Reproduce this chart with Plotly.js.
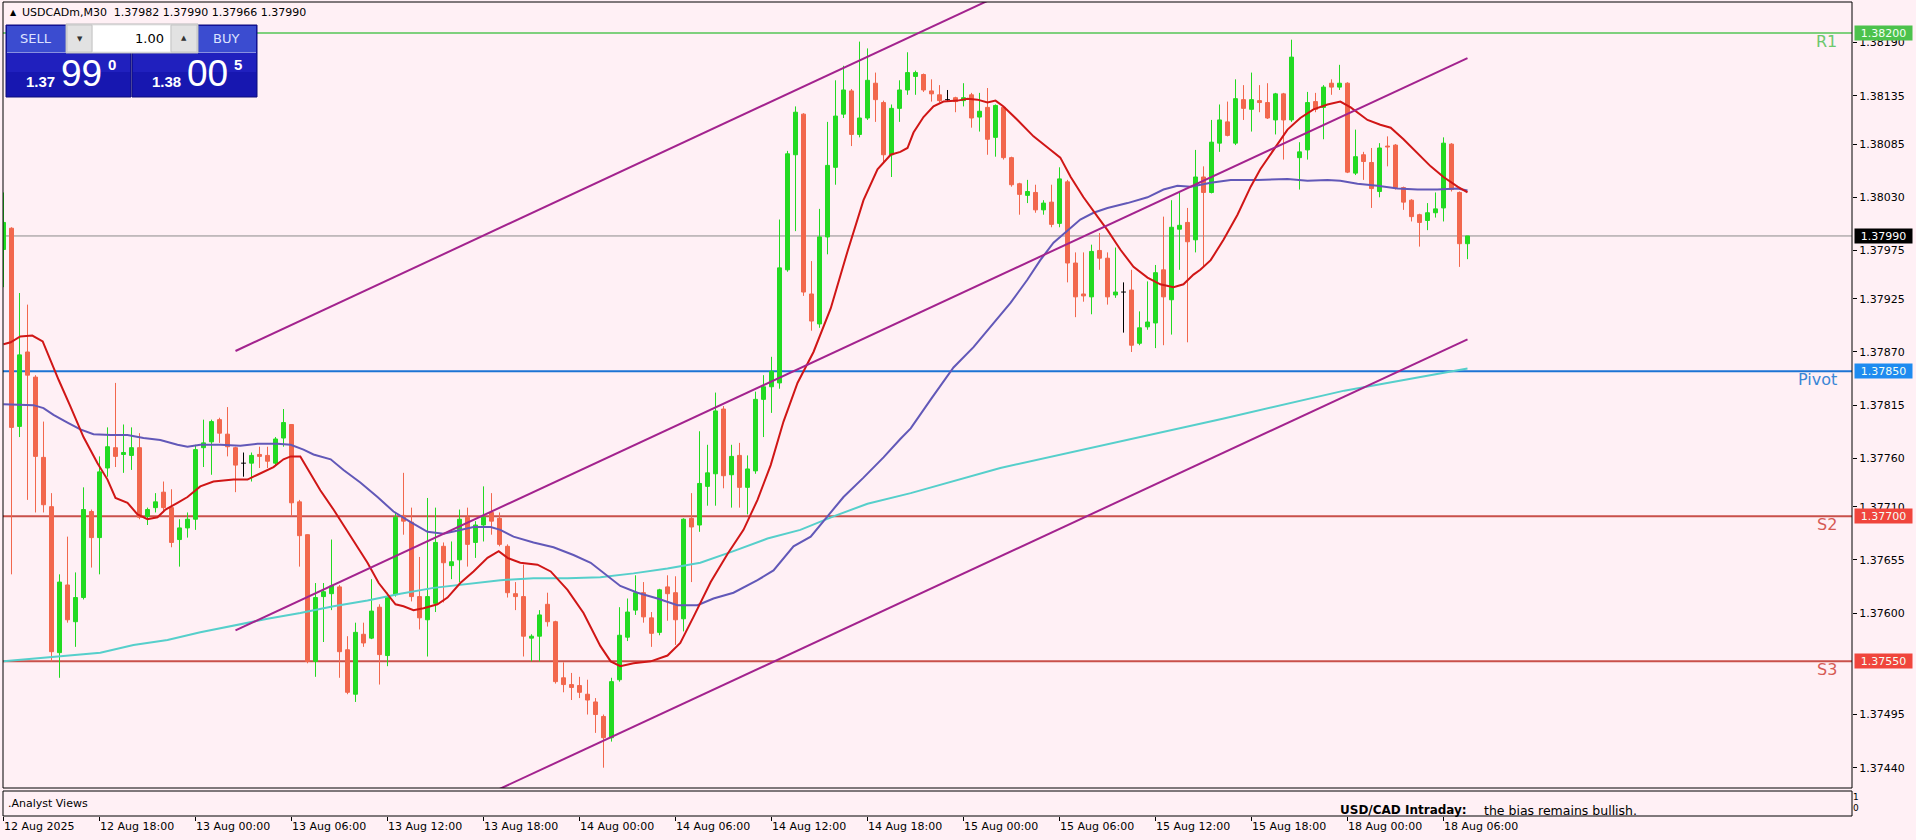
<!DOCTYPE html>
<html><head><meta charset="utf-8">
<script src="https://cdn.plot.ly/plotly-3.0.1.min.js"></script>
<style>html,body{margin:0;padding:0;background:#FFF0F5;}#chart{width:1916px;height:840px;}</style>
</head><body><div id="chart"></div>
<script>
// ---------- DATA ----------
const symbolName = 'USDCADm,M30';
const openP = [1.37976,1.37998,1.37793,1.37870,1.37844,1.37761,1.37710,1.37559,1.37629,1.37591,
1.37616,1.37705,1.37678,1.37750,1.37771,1.37764,1.37763,1.37771,1.37700,1.37709,
1.37725,1.37709,1.37676,1.37688,1.37697,1.37771,1.37777,1.37800,1.37785,1.37771,
1.37755,1.37755,1.37764,1.37763,1.37755,1.37781,1.37795,1.37715,1.37681,1.37550,
1.37617,1.37620,1.37627,1.37562,1.37516,1.37578,1.37574,1.37606,1.37556,1.37619,
1.37701,1.37694,1.37617,1.37593,1.37610,1.37669,1.37649,1.37655,1.37699,1.37673,
1.37691,1.37704,1.37698,1.37669,1.37620,1.37617,1.37574,1.37576,1.37609,1.37591,
1.37533,1.37526,1.37525,1.37516,1.37508,1.37493,1.37471,1.37531,1.37575,1.37603,
1.37621,1.37595,1.37580,1.37627,1.37621,1.37594,1.37698,1.37691,1.37731,1.37744,
1.37811,1.37743,1.37763,1.37730,1.37747,1.37821,1.37834,1.37838,1.37955,1.38074,
1.38116,1.37930,1.37899,1.37989,1.38061,1.38116,1.38140,1.38095,1.38112,1.38148,
1.38128,1.38074,1.38122,1.38141,1.38155,1.38157,1.38140,1.38136,1.38131,1.38133,
1.38130,1.38136,1.38113,1.38123,1.38092,1.38123,1.38071,1.38044,1.38032,1.38035,
1.38017,1.38025,1.38003,1.38046,1.37962,1.37930,1.37927,1.37975,1.37967,1.37929,
1.37932,1.37934,1.37879,1.37896,1.37900,1.37955,1.37924,1.37997,1.38004,1.37986,
1.38051,1.38035,1.38086,1.38108,1.38086,1.38131,1.38121,1.38130,1.38128,1.38110,
1.38137,1.38110,1.38071,1.38079,1.38129,1.38123,1.38148,1.38144,1.38148,1.38055,
1.38074,1.38066,1.38036,1.38083,1.38084,1.38040,1.38027,1.38012,1.38006,1.38014,
1.38019,1.38085,1.38035,1.37982];
const highP = [1.38035,1.37999,1.37931,1.37919,1.37846,1.37798,1.37724,1.37640,1.37679,1.37642,
1.37730,1.37707,1.37762,1.37792,1.37838,1.37795,1.37792,1.37786,1.37709,1.37724,
1.37736,1.37728,1.37697,1.37704,1.37774,1.37800,1.37800,1.37802,1.37813,1.37772,
1.37766,1.37766,1.37772,1.37772,1.37782,1.37811,1.37795,1.37717,1.37681,1.37631,
1.37631,1.37676,1.37629,1.37576,1.37590,1.37590,1.37635,1.37609,1.37621,1.37704,
1.37745,1.37709,1.37658,1.37719,1.37709,1.37673,1.37674,1.37707,1.37709,1.37695,
1.37731,1.37724,1.37704,1.37671,1.37632,1.37650,1.37578,1.37603,1.37621,1.37592,
1.37549,1.37538,1.37534,1.37531,1.37512,1.37495,1.37533,1.37606,1.37615,1.37639,
1.37632,1.37601,1.37625,1.37639,1.37638,1.37698,1.37724,1.37788,1.37774,1.37828,
1.37814,1.37774,1.37776,1.37763,1.37829,1.37846,1.37865,1.38007,1.38078,1.38124,
1.38117,1.37964,1.38018,1.38108,1.38151,1.38166,1.38142,1.38191,1.38184,1.38159,
1.38130,1.38126,1.38151,1.38180,1.38161,1.38158,1.38152,1.38146,1.38141,1.38134,
1.38148,1.38138,1.38138,1.38143,1.38126,1.38124,1.38072,1.38045,1.38048,1.38043,
1.38027,1.38043,1.38061,1.38048,1.37973,1.37973,1.37981,1.37993,1.37973,1.37978,
1.37942,1.37955,1.37912,1.37943,1.37960,1.38010,1.38027,1.38035,1.38019,1.38079,
1.38062,1.38110,1.38126,1.38129,1.38152,1.38146,1.38159,1.38146,1.38148,1.38138,
1.38138,1.38193,1.38087,1.38139,1.38138,1.38146,1.38152,1.38167,1.38149,1.38100,
1.38077,1.38081,1.38086,1.38093,1.38085,1.38041,1.38028,1.38013,1.38024,1.38035,
1.38092,1.38086,1.38036,1.37990];
const lowP = [1.37937,1.37640,1.37782,1.37717,1.37704,1.37704,1.37550,1.37533,1.37590,1.37565,
1.37614,1.37647,1.37640,1.37741,1.37751,1.37745,1.37748,1.37697,1.37691,1.37704,
1.37704,1.37668,1.37648,1.37678,1.37686,1.37751,1.37743,1.37776,1.37762,1.37725,
1.37741,1.37736,1.37750,1.37750,1.37753,1.37772,1.37700,1.37648,1.37548,1.37534,
1.37570,1.37603,1.37533,1.37516,1.37508,1.37565,1.37573,1.37526,1.37545,1.37617,
1.37681,1.37612,1.37583,1.37555,1.37601,1.37611,1.37635,1.37632,1.37648,1.37657,
1.37674,1.37681,1.37669,1.37616,1.37603,1.37555,1.37550,1.37550,1.37586,1.37527,
1.37518,1.37510,1.37512,1.37495,1.37476,1.37440,1.37467,1.37529,1.37571,1.37598,
1.37590,1.37565,1.37577,1.37592,1.37567,1.37581,1.37632,1.37684,1.37711,1.37711,
1.37729,1.37709,1.37709,1.37702,1.37744,1.37782,1.37807,1.37832,1.37953,1.37995,
1.37928,1.37892,1.37895,1.37971,1.38043,1.38112,1.38083,1.38092,1.38110,1.38108,
1.38065,1.38051,1.38108,1.38136,1.38136,1.38139,1.38129,1.38128,1.38129,1.38118,
1.38124,1.38102,1.38098,1.38074,1.38072,1.38069,1.38041,1.38012,1.38024,1.38014,
1.38012,1.37999,1.37999,1.37942,1.37906,1.37922,1.37909,1.37955,1.37919,1.37926,
1.37890,1.37870,1.37877,1.37893,1.37874,1.37877,1.37888,1.37955,1.37880,1.37973,
1.37958,1.38034,1.38077,1.38093,1.38084,1.38110,1.38098,1.38118,1.38111,1.38095,
1.38069,1.38108,1.38038,1.38069,1.38118,1.38090,1.38136,1.38141,1.38055,1.38053,
1.38048,1.38019,1.38030,1.38062,1.38038,1.38017,1.38005,1.37979,1.37996,1.38009,
1.38005,1.38036,1.37958,1.37966];
const closeP = [1.38004,1.37792,1.37867,1.37846,1.37762,1.37712,1.37560,1.37632,1.37593,1.37616,
1.37707,1.37678,1.37746,1.37772,1.37762,1.37766,1.37771,1.37699,1.37707,1.37715,
1.37709,1.37673,1.37688,1.37697,1.37769,1.37776,1.37798,1.37786,1.37772,1.37753,
1.37755,1.37763,1.37762,1.37757,1.37780,1.37797,1.37714,1.37680,1.37550,1.37616,
1.37622,1.37628,1.37560,1.37518,1.37580,1.37569,1.37602,1.37557,1.37617,1.37699,
1.37695,1.37617,1.37595,1.37617,1.37673,1.37652,1.37653,1.37697,1.37671,1.37691,
1.37699,1.37695,1.37671,1.37621,1.37617,1.37576,1.37576,1.37598,1.37591,1.37529,
1.37526,1.37523,1.37518,1.37510,1.37495,1.37471,1.37529,1.37577,1.37601,1.37621,
1.37596,1.37579,1.37624,1.37620,1.37593,1.37697,1.37689,1.37734,1.37745,1.37809,
1.37742,1.37762,1.37730,1.37749,1.37821,1.37834,1.37850,1.37957,1.38075,1.38118,
1.37932,1.37902,1.37989,1.38063,1.38114,1.38141,1.38095,1.38112,1.38151,1.38131,
1.38074,1.38122,1.38141,1.38159,1.38159,1.38141,1.38137,1.38130,1.38131,1.38129,
1.38133,1.38112,1.38119,1.38090,1.38125,1.38071,1.38043,1.38033,1.38036,1.38017,
1.38024,1.38002,1.38049,1.37962,1.37927,1.37928,1.37974,1.37967,1.37927,1.37932,
1.37932,1.37877,1.37895,1.37901,1.37952,1.37927,1.37999,1.38001,1.37984,1.38051,
1.38035,1.38087,1.38110,1.38094,1.38132,1.38122,1.38131,1.38128,1.38112,1.38137,
1.38110,1.38175,1.38077,1.38128,1.38121,1.38144,1.38144,1.38148,1.38056,1.38072,
1.38067,1.38039,1.38081,1.38082,1.38040,1.38025,1.38010,1.38004,1.38014,1.38018,
1.38086,1.38038,1.37982,1.37990];

const tickBars = [0,12,24,36,48,60,72,84,96,108,120,132,144,156,168,180];
const tickLabels = ['12 Aug 2025','12 Aug 18:00','13 Aug 00:00','13 Aug 06:00','13 Aug 12:00','13 Aug 18:00',
 '14 Aug 00:00','14 Aug 06:00','14 Aug 12:00','14 Aug 18:00','15 Aug 00:00','15 Aug 06:00','15 Aug 12:00',
 '15 Aug 18:00','18 Aug 00:00','18 Aug 06:00'];
const priceTicks = [1.38190,1.38135,1.38085,1.38030,1.37975,1.37925,1.37870,1.37815,1.37760,1.37710,1.37655,1.37600,1.37495,1.37440];

// fast MA (red)
const maFastBar = [0,0.9,2.1,3.6,4.9,5.9,6.9,8.4,10,11.75,13,14,15.5,16.75,18,19.25,20.25,21.75,23,24.6,26.25,28.75,30.5,31.75,33.75,35,35.9,37.1,38.4,39.6,41.25,43.4,45.5,46.9,48,49,50,51.25,52.5,54.25,55.5,57.1,58.75,60.5,61.9,63,64.6,66.75,68.4,70.5,72.5,74.6,75.9,77.1,78.75,80.9,83,84.6,86.25,88.4,90.5,92.5,94.25,95.9,97.5,99.25,101.25,103.4,105.5,107.5,109.25,110.9,112.1,113,113.75,115,116.25,117.5,119.25,120.5,121.75,123,124,125,126.75,128.75,130.9,132.1,133.4,135,136.75,138,139.6,141.25,143,144.6,146.25,147.5,148.75,149.6,150.9,152.5,154.25,155.9,157.1,158.75,160.5,162.1,163.75,165.5,167.1,168.4,170.5,172.1,173.4,175,176.75,178.4,180,181.75,183];
const maFastVal = [1.37878,1.37880,1.37886,1.37887,1.37881,1.37860,1.37841,1.37813,1.37782,1.37755,1.37738,1.37719,1.37714,1.37702,1.37697,1.37699,1.37707,1.37714,1.37720,1.37731,1.37736,1.37738,1.37738,1.37743,1.37751,1.37759,1.37762,1.37762,1.37743,1.37727,1.37707,1.37679,1.37652,1.37631,1.37619,1.37609,1.37607,1.37603,1.37605,1.37609,1.37616,1.37631,1.37643,1.37657,1.37664,1.37657,1.37652,1.37650,1.37643,1.37624,1.37600,1.37566,1.37550,1.37545,1.37548,1.37550,1.37556,1.37569,1.37596,1.37632,1.37661,1.37686,1.37717,1.37753,1.37798,1.37838,1.37870,1.37915,1.37974,1.38027,1.38059,1.38074,1.38077,1.38081,1.38097,1.38113,1.38124,1.38129,1.38130,1.38132,1.38131,1.38128,1.38130,1.38124,1.38110,1.38093,1.38079,1.38071,1.38051,1.38030,1.38010,1.37996,1.37976,1.37958,1.37947,1.37940,1.37937,1.37940,1.37950,1.37955,1.37965,1.37986,1.38012,1.38041,1.38059,1.38079,1.38100,1.38112,1.38121,1.38126,1.38129,1.38123,1.38110,1.38105,1.38102,1.38090,1.38076,1.38062,1.38051,1.38041,1.38035];
// medium MA (slate blue)
const maMidBar = [0,3.75,5,6.25,8,9.6,11.25,13.4,15.5,17.5,19.6,21.75,23,24.6,27.1,29.6,31.75,34.25,35.9,37.5,38.75,40.9,42.5,44.6,46.75,48.75,50.9,53,55,57.1,58.75,60.9,62.1,63.75,66.25,68.75,71.25,73.4,75,77.1,79.25,81.75,84.25,86.75,88.75,91.25,94.25,96.25,98.75,100.9,103,105,107.5,110,112.1,113.4,116,118.75,121.25,123.75,125.9,128,129.6,131.25,133,134.6,136.25,138,140.5,143,145,146.75,148.4,150.9,153.4,156.75,160.5,163,165.5,167.1,169.25,171.75,174.25,176.75,179.25,181.75,183];
const maMidVal = [1.37816,1.37815,1.37812,1.37805,1.37797,1.37790,1.37785,1.37784,1.37784,1.37781,1.37779,1.37774,1.37772,1.37774,1.37774,1.37773,1.37775,1.37775,1.37774,1.37769,1.37764,1.37759,1.37748,1.37735,1.37720,1.37705,1.37694,1.37684,1.37682,1.37686,1.37689,1.37689,1.37686,1.37679,1.37673,1.37668,1.37660,1.37652,1.37642,1.37628,1.37621,1.37615,1.37608,1.37608,1.37615,1.37621,1.37634,1.37644,1.37669,1.37679,1.37700,1.37720,1.37740,1.37761,1.37780,1.37791,1.37822,1.37854,1.37875,1.37900,1.37921,1.37945,1.37965,1.37983,1.37996,1.38007,1.38014,1.38019,1.38024,1.38030,1.38038,1.38042,1.38041,1.38045,1.38048,1.38048,1.38049,1.38047,1.38048,1.38047,1.38044,1.38042,1.38039,1.38038,1.38038,1.38039,1.38037];
// slow MA (turquoise)
const maSlowBar = [0,3.75,8,12.1,16.25,20.5,24.6,28.75,33,37.1,41.25,45.5,49.6,53.75,58,62.1,66.25,70.5,74.6,78.75,83,87.1,91.25,95.5,99.6,103.75,108,113.4,124.6,137.1,152.4,167.6,183];
const maSlowVal = [1.37550,1.37553,1.37556,1.37559,1.37567,1.37572,1.37580,1.37587,1.37594,1.37600,1.37607,1.37613,1.37620,1.37626,1.37630,1.37634,1.37636,1.37636,1.37637,1.37641,1.37646,1.37652,1.37664,1.37677,1.37686,1.37700,1.37713,1.37724,1.37750,1.37773,1.37801,1.37830,1.37853];

// channel trend lines (bar index, price)
const chanUpperBar = [29,124], chanUpperVal = [1.37871,1.38237];
const chanMidBar = [29,183],   chanMidVal = [1.37582,1.38174];
const chanLowBar = [62,183],   chanLowVal = [1.37418,1.37883];

// horizontal levels
const levelNames = ['R1','Pivot','S2','S3'];
const levelVals = [1.38200,1.37850,1.37700,1.37550];
const levelLine = ['#55C655','#1C74D4','#C9504A','#C9504A'];
const levelBox = ['#4CC24C','#1E8BF0','#F0453C','#F0453C'];
const levelText = ['#6CC86C','#3A86D6','#D65A55','#D65A55'];
const bidPrice = 1.37990;
const askPrice = 1.38005;
const analystHead = 'USD/CAD Intraday:';
const analystBody = 'the bias remains bullish.';

// ---------- GEOMETRY ----------
const W=1916,H=840, PL=3, PR=1852, PT=2, PB=816, MAINB=788, SUBT=791;
const plotW = PR-PL, plotH = PB-PT;
const px = x => (x-PL)/plotW;
const py = y => (PB-y)/plotH;
const mainDom0 = (PB-MAINB)/plotH;
const subDom1 = (PB-SUBT)/plotH;
const yTop = 1.38232, yBot = 1.37419;
const GREEN='#22DA22', RED='#F2674D';
const FONT='DejaVu Sans';

// ---------- TRACES ----------
const traces = [];
const upX=[],upB=[],upH=[],dnX=[],dnB=[],dnH=[];
const upWx=[],upWy=[],dnWx=[],dnWy=[],djX=[],djY=[];
for (let i=0;i<openP.length;i++){
  const o=openP[i],c=closeP[i],h=highP[i],l=lowP[i];
  if (c>o){upX.push(i);upB.push(o);upH.push(c-o);upWx.push(i,i,null);upWy.push(l,h,null);}
  else if (c<o){dnX.push(i);dnB.push(c);dnH.push(o-c);dnWx.push(i,i,null);dnWy.push(l,h,null);}
  else {djX.push(i,i,null,i-0.3,i+0.3,null);djY.push(l,h,null,o,o,null);}
}
const line = (x,y,color,width) => ({type:'scatter',mode:'lines',x:x,y:y,line:{color:color,width:width},hoverinfo:'skip',xaxis:'x',yaxis:'y',connectgaps:false,cliponaxis:true});
traces.push(line(upWx,upWy,GREEN,1));
traces.push(line(dnWx,dnWy,RED,1));
traces.push(line(djX,djY,'#000000',1));
traces.push({type:'bar',x:upX,y:upH,base:upB,width:0.5,marker:{color:GREEN,line:{color:GREEN,width:1}},hoverinfo:'skip',xaxis:'x',yaxis:'y'});
traces.push({type:'bar',x:dnX,y:dnH,base:dnB,width:0.5,marker:{color:RED,line:{color:RED,width:1}},hoverinfo:'skip',xaxis:'x',yaxis:'y'});
traces.push(line(maSlowBar,maSlowVal,'#56CFCB',2));
traces.push(line(maMidBar,maMidVal,'#6258B8',2));
traces.push(line(maFastBar,maFastVal,'#D01616',2));
traces.push(line(chanUpperBar,chanUpperVal,'#A3238E',2));
traces.push(line(chanMidBar,chanMidVal,'#A3238E',2));
traces.push(line(chanLowBar,chanLowVal,'#A3238E',2));
traces.push({type:'scatter',mode:'lines',x:[0],y:[0.5],line:{width:0},hoverinfo:'skip',xaxis:'x',yaxis:'y2',showlegend:false,opacity:0});

// ---------- SHAPES ----------
const shapes = [];
levelVals.forEach((v,i)=>shapes.push({type:'line',xref:'paper',yref:'y',x0:0,x1:1,y0:v,y1:v,line:{color:levelLine[i],width:i===0?1.5:2},layer:'below'}));
shapes.push({type:'line',xref:'paper',yref:'y',x0:0,x1:1,y0:bidPrice,y1:bidPrice,line:{color:'#8C8C8C',width:1},layer:'below'});
shapes.push({type:'rect',xref:'paper',yref:'paper',x0:0,x1:1,y0:mainDom0,y1:1,line:{color:'#000',width:1},layer:'above'});
shapes.push({type:'rect',xref:'paper',yref:'paper',x0:0,x1:1,y0:0,y1:subDom1,line:{color:'#000',width:1},layer:'above'});
const rectPx = (x0,y0,x1,y1,fill,lineColor,lw) => ({type:'rect',xref:'paper',yref:'paper',x0:px(x0),x1:px(x1),y0:py(y1),y1:py(y0),fillcolor:fill,line:{color:lineColor||fill,width:lw===undefined?0:lw},layer:'above'});
shapes.push(rectPx(6,25,131,97,'#1717B0','#0C0C7A',1));
shapes.push(rectPx(132,25,257,97,'#1717B0','#0C0C7A',1));
shapes.push(rectPx(7,26,130,52,'#3B4CD0'));
shapes.push(rectPx(133,26,256,52,'#3B4CD0'));
shapes.push(rectPx(7,52,130,53,'#8890E0'));
shapes.push(rectPx(133,52,256,53,'#8890E0'));
shapes.push(rectPx(7,53,130,72,'#2020BE'));
shapes.push(rectPx(133,53,256,72,'#2020BE'));
shapes.push(rectPx(66,24,198,53,'#F2F2F2','#B8B8B8',1));
shapes.push(rectPx(67,25,92,52,'#E2E2E2','#C4C4C4',1));
shapes.push(rectPx(171,25,197,52,'#E2E2E2','#C4C4C4',1));
shapes.push(rectPx(93,26,170,51,'#FFFFFF'));

// ---------- ANNOTATIONS ----------
const ann = [];
const txt = (x,y,text,size,color,xanchor,opts) => Object.assign({xref:'paper',yref:'paper',x:px(x),y:py(y),text:text,showarrow:false,xanchor:xanchor||'left',yanchor:'middle',font:{family:FONT,size:size,color:color}},opts||{});
const lastIdx = closeP.length-1;
ann.push(txt(8,13,'▲',8,'#000'));
ann.push(txt(20,13,symbolName+'  '+[openP[lastIdx],highP[lastIdx],lowP[lastIdx],closeP[lastIdx]].map(v=>v.toFixed(5)).join(' '),11,'#000'));
ann.push(txt(36,39,'SELL',13,'#DDE2FF','center'));
ann.push(txt(226,39,'BUY',13,'#DDE2FF','center'));
ann.push(txt(80,39,'▼',7,'#333','center'));
ann.push(txt(184,38,'▲',7,'#333','center'));
ann.push(txt(166,38,'1.00',13,'#000','right'));
[[bidPrice.toFixed(5),24],[askPrice.toFixed(5),150]].forEach(([s,x0])=>{
  ann.push(txt(x0,81,s.slice(0,4),15,'#FFFFFF','left',{font:{family:'Liberation Sans',size:15,color:'#fff',weight:700}}));
  ann.push(txt(x0+35,74,s.slice(4,6),37,'#FFFFFF','left',{font:{family:'Liberation Sans',size:37,color:'#fff'}}));
  ann.push(txt(x0+82,65,s.slice(6,7),15,'#FFFFFF','left',{font:{family:'Liberation Sans',size:15,color:'#fff',weight:700}}));
});
levelVals.forEach((v,i)=>{
  ann.push({xref:'paper',yref:'y',x:1,y:v,xanchor:'right',yanchor:'top',xshift:-13,yshift:3,text:levelNames[i],showarrow:false,font:{family:FONT,size:16,color:levelText[i]}});
  ann.push({xref:'paper',yref:'y',x:1,y:v,xanchor:'left',yanchor:'middle',xshift:2,text:v.toFixed(5),showarrow:false,bgcolor:levelBox[i],width:55,height:12,borderpad:1,align:'center',font:{family:FONT,size:11,color:'#F4FFF4'}});
});
ann.push({xref:'paper',yref:'y',x:1,y:bidPrice,xanchor:'left',yanchor:'middle',xshift:2,text:bidPrice.toFixed(5),showarrow:false,bgcolor:'#000000',width:55,height:12,borderpad:1,align:'center',font:{family:FONT,size:11,color:'#FFFFFF'}});
ann.push(txt(6,803,'.Analyst Views',11,'#000'));
ann.push(txt(1338,810,'<b>'+analystHead+'</b>',12,'#000'));
ann.push(txt(1482,810,analystBody,12.5,'#000'));

// ---------- LAYOUT ----------
const layout = {
  width:W,height:H,margin:{l:PL,r:W-PR,t:PT,b:H-PB,pad:0},
  paper_bgcolor:'#FFF0F5',plot_bgcolor:'#FFF0F5',showlegend:false,barmode:'overlay',bargap:0,
  font:{family:FONT,size:11,color:'#000'},
  xaxis:{range:[-0.0625,231.0625],anchor:'y2',showgrid:false,zeroline:false,showline:false,
    ticks:'outside',ticklen:4,tickwidth:1,tickcolor:'#000',tickvals:tickBars,ticktext:tickLabels,
    ticklabelposition:'outside right',tickfont:{family:FONT,size:11,color:'#000'},fixedrange:true},
  yaxis:{domain:[mainDom0,1],range:[yBot,yTop],side:'right',anchor:'x',showgrid:false,zeroline:false,showline:false,
    ticks:'outside',ticklen:4,tickwidth:1,tickcolor:'#000',tickvals:priceTicks,ticktext:priceTicks.map(v=>v.toFixed(5)),
    tickfont:{family:FONT,size:11,color:'#000'},fixedrange:true},
  yaxis2:{domain:[0,subDom1],range:[-0.727,1.545],side:'right',anchor:'x',showgrid:false,zeroline:false,showline:false,
    ticks:'',tickvals:[0,1],ticktext:['0','1'],tickfont:{family:FONT,size:9,color:'#000'},fixedrange:true},
  shapes:shapes,annotations:ann
};
Plotly.newPlot('chart',traces,layout,{staticPlot:true,displayModeBar:false});
</script></body></html>
